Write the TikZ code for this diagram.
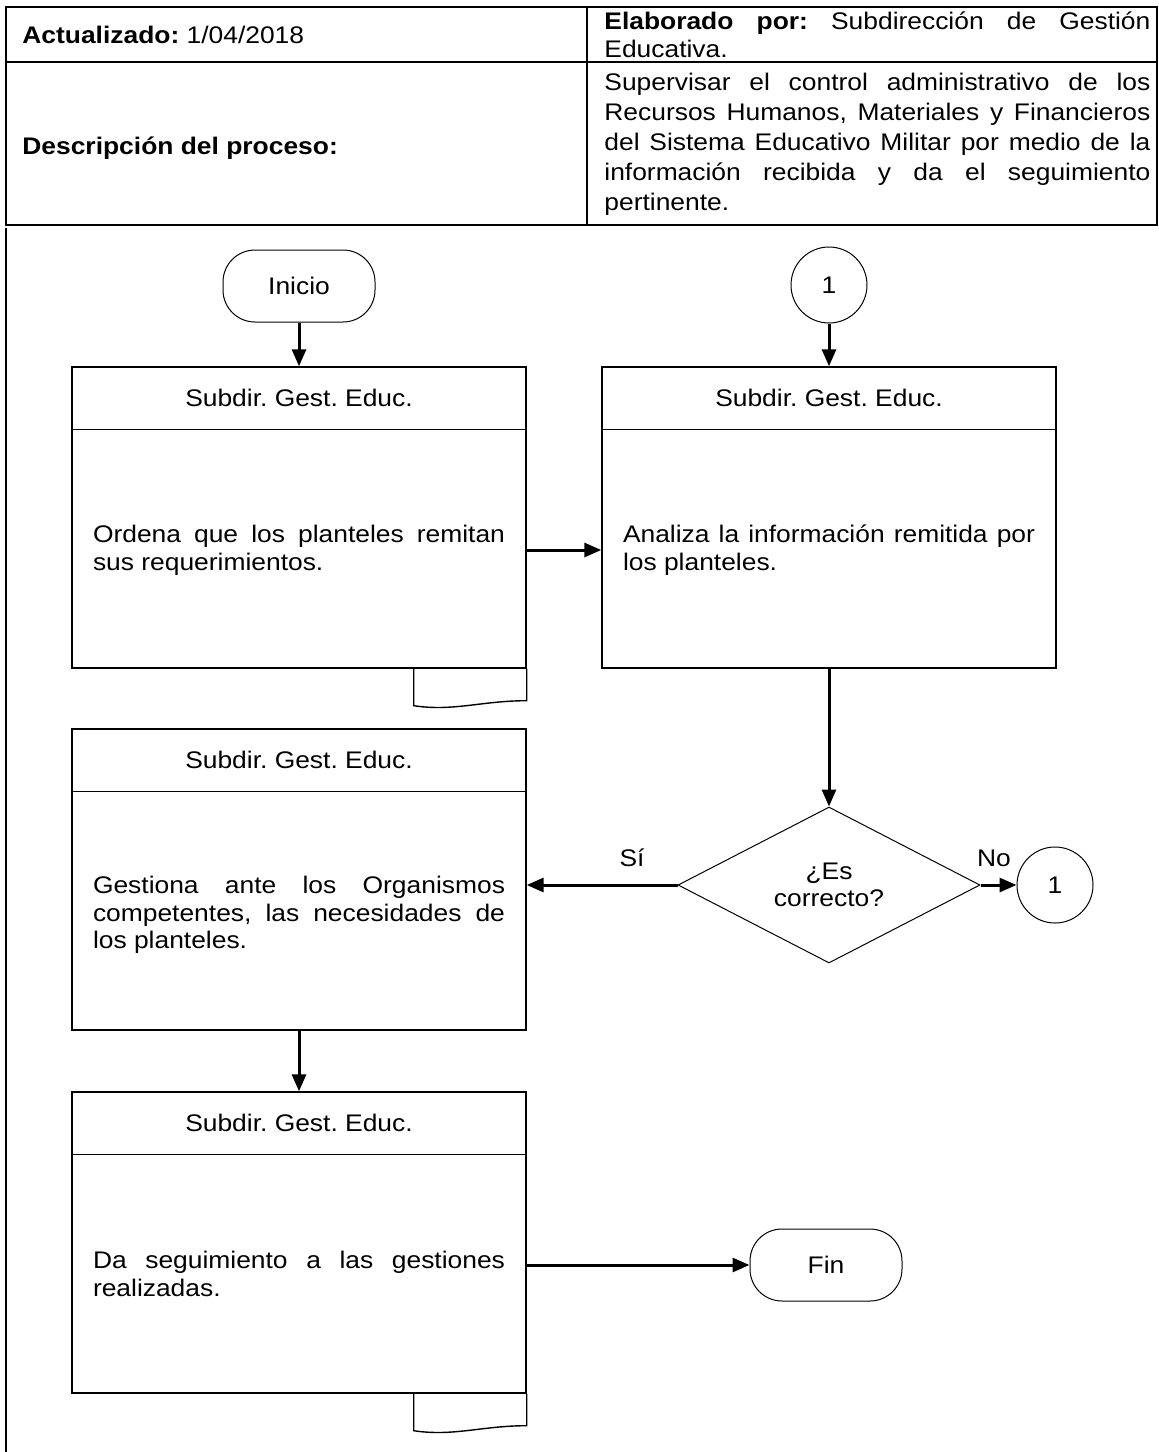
\documentclass[tikz,border=0pt]{standalone}
\usepackage{fontspec}
\setmainfont{Liberation Sans}[FakeStretch=1.1]
\usetikzlibrary{positioning, arrows.meta, shapes.geometric, calc}
\hyphenpenalty=10000
\exhyphenpenalty=10000
\tolerance=9999
\frenchspacing

\begin{document}
\begin{tikzpicture}[
  x=0.5pt, y=-0.5pt,
  every node/.style={font=\fontsize{12pt}{13.8pt}\selectfont},
  proc/.style={draw, line width=0.7pt, minimum width=227pt, minimum height=150.5pt, inner sep=0pt},
  body/.style={text width=206pt, align=justify, inner sep=0pt},
  term/.style={draw, line width=0.5pt, rounded corners=16pt, minimum width=76pt, minimum height=36pt},
  conn/.style={draw, circle, line width=0.5pt, minimum size=38pt, inner sep=0pt},
  hdr/.style={inner sep=0pt, anchor=west},
  flow/.style={line width=1.5pt, -{Triangle[length=8.5pt,width=7pt]}},
]
  \useasboundingbox (0,0) rectangle (1159,1452);

  % cabecera
  \draw[line width=1pt] (6,7) rectangle (1157,225);
  \draw[line width=1pt] (587,7) -- (587,225);
  \draw[line width=1pt] (6,62) -- (1157,62);
  \draw[line width=0.7pt] (6,228) -- (6,1452);
  \node[hdr] (upd) at (22,35) {\textbf{Actualizado:} 1/04/2018};
  \node[hdr, text width=273pt, align=justify] (elab) at (604,35)
    {\textbf{Elaborado por:} Subdirección de Gestión Educativa.};
  \node[hdr] (desc) at (22,148) {\textbf{Descripción del proceso:}};
  \node[hdr, text width=273pt, align=justify, font=\fontsize{12pt}{15pt}\selectfont] (obj) at (604,144)
    {Supervisar el control administrativo de los Recursos Humanos, Materiales y Financieros del Sistema Educativo Militar por medio de la\linebreak{} información recibida y da el seguimiento pertinente.};

  % inicio y conector
  \node[term] (ini) at (299,286) {Inicio};
  \node[conn] (c1) at (829,285) {1};

  % procesos
  \node[proc] (b1) at (299,517.5) {};
  \draw[line width=0.7pt] ([yshift=-31.5pt]b1.north west) -- ([yshift=-31.5pt]b1.north east);
  \node (h1) at ([yshift=-15.75pt]b1.north) {Subdir. Gest. Educ.};
  \node[body] (t1) at (299,550) {Ordena que los planteles remitan sus requerimientos.};
  \draw[line width=0.7pt] ($(b1.south east)+(-113,0)$) -- ++(0,37)
    .. controls +(40,6) and +(-45,0) .. ($(b1.south east)+(0,32)$) -- (b1.south east);

  \node[proc] (b2) at (829,517.5) {};
  \draw[line width=0.7pt] ([yshift=-31.5pt]b2.north west) -- ([yshift=-31.5pt]b2.north east);
  \node (h2) at ([yshift=-15.75pt]b2.north) {Subdir. Gest. Educ.};
  \node[body] (t2) at (829,550) {Analiza la información remitida por los planteles.};

  \node[proc] (b3) at (299,879.5) {};
  \draw[line width=0.7pt] ([yshift=-31.5pt]b3.north west) -- ([yshift=-31.5pt]b3.north east);
  \node (h3) at ([yshift=-15.75pt]b3.north) {Subdir. Gest. Educ.};
  \node[body] (t3) at (299,915) {Gestiona ante los Organismos competentes, las necesidades de los planteles.};

  \node[proc] (b4) at (299,1242.5) {};
  \draw[line width=0.7pt] ([yshift=-31.5pt]b4.north west) -- ([yshift=-31.5pt]b4.north east);
  \node (h4) at ([yshift=-15.75pt]b4.north) {Subdir. Gest. Educ.};
  \node[body] (t4) at (299,1274) {Da seguimiento a las gestiones realizadas.};
  \draw[line width=0.7pt] ($(b4.south east)+(-113,0)$) -- ++(0,37)
    .. controls +(40,6) and +(-45,0) .. ($(b4.south east)+(0,32)$) -- (b4.south east);

  % decision
  \node[draw, diamond, shape aspect=1.94, minimum width=151pt, minimum height=78pt,
        inner sep=0pt, align=center, line width=0.5pt] (dec) at (829,885) {¿Es\\correcto?};
  \node[conn] (c2) at (1055,885) {1};
  \node (si) at (632,858) {Sí};
  \node (no) at (994,858) {No};

  \node[term] (fin) at (826,1265) {Fin};

  % flechas
  \draw[flow] (ini) -- (b1);
  \draw[flow] (c1) -- (b2);
  \draw[flow] (t1 -| b1.east) -- (t1 -| b2.west);
  \draw[flow] (b2) -- (dec);
  \draw[flow] (dec.west) -- (dec.west -| b3.east);
  \draw[flow] (dec) -- (c2);
  \draw[flow] (b3) -- (b4);
  \draw[flow] (fin -| b4.east) -- (fin);
\end{tikzpicture}
\end{document}
